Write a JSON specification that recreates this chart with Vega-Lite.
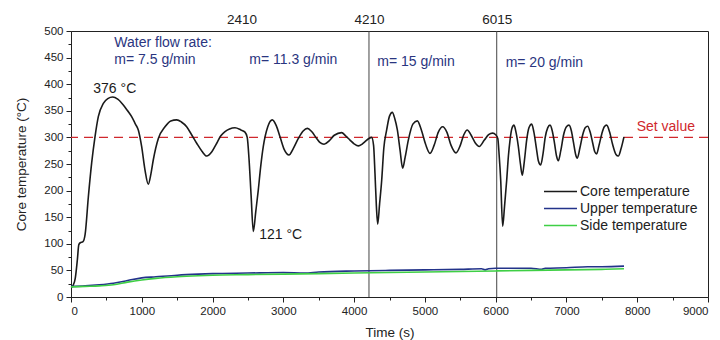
{
  "$schema": "https://vega.github.io/schema/vega-lite/v6.json",
  "width": 637,
  "height": 266,
  "autosize": {"type": "none"},
  "padding": {"left": 71, "top": 31, "right": 12, "bottom": 43},
  "config": {
    "font": "Liberation Sans",
    "view": {"stroke": "#222", "strokeWidth": 1},
    "axis": {"labelFont": "Liberation Sans", "titleFont": "Liberation Sans", "domainColor": "#222", "tickColor": "#222", "labelColor": "#222", "titleColor": "#222", "grid": false, "labelFontSize": 11.5, "titleFontSize": 13.5, "titleFontWeight": "normal", "format": "d"}
  },
  "datasets": {
    "temps": [
      {"t":0,"T":18,"s":"Core temperature"},{"t":30,"T":22,"s":"Core temperature"},{"t":60,"T":35,"s":"Core temperature"},{"t":90,"T":70,"s":"Core temperature"},{"t":110,"T":98,"s":"Core temperature"},{"t":130,"T":102,"s":"Core temperature"},{"t":170,"T":104,"s":"Core temperature"},{"t":200,"T":118,"s":"Core temperature"},{"t":245,"T":188,"s":"Core temperature"},{"t":292,"T":252,"s":"Core temperature"},{"t":339,"T":301,"s":"Core temperature"},{"t":386,"T":339,"s":"Core temperature"},{"t":457,"T":364,"s":"Core temperature"},{"t":520,"T":373,"s":"Core temperature"},{"t":589,"T":376,"s":"Core temperature"},{"t":660,"T":372,"s":"Core temperature"},{"t":739,"T":361,"s":"Core temperature"},{"t":800,"T":350,"s":"Core temperature"},{"t":857,"T":339,"s":"Core temperature"},{"t":910,"T":325,"s":"Core temperature"},{"t":951,"T":314,"s":"Core temperature"},{"t":998,"T":283,"s":"Core temperature"},{"t":1045,"T":239,"s":"Core temperature"},{"t":1092,"T":212,"s":"Core temperature"},{"t":1130,"T":232,"s":"Core temperature"},{"t":1163,"T":258,"s":"Core temperature"},{"t":1234,"T":298,"s":"Core temperature"},{"t":1328,"T":320,"s":"Core temperature"},{"t":1410,"T":331,"s":"Core temperature"},{"t":1493,"T":333,"s":"Core temperature"},{"t":1560,"T":329,"s":"Core temperature"},{"t":1634,"T":320,"s":"Core temperature"},{"t":1700,"T":306,"s":"Core temperature"},{"t":1776,"T":289,"s":"Core temperature"},{"t":1850,"T":274,"s":"Core temperature"},{"t":1917,"T":265,"s":"Core temperature"},{"t":1990,"T":273,"s":"Core temperature"},{"t":2059,"T":289,"s":"Core temperature"},{"t":2117,"T":303,"s":"Core temperature"},{"t":2176,"T":311,"s":"Core temperature"},{"t":2240,"T":316,"s":"Core temperature"},{"t":2317,"T":318,"s":"Core temperature"},{"t":2400,"T":314,"s":"Core temperature"},{"t":2458,"T":310,"s":"Core temperature"},{"t":2490,"T":300,"s":"Core temperature"},{"t":2515,"T":260,"s":"Core temperature"},{"t":2545,"T":190,"s":"Core temperature"},{"t":2576,"T":123,"s":"Core temperature"},{"t":2610,"T":160,"s":"Core temperature"},{"t":2646,"T":201,"s":"Core temperature"},{"t":2680,"T":245,"s":"Core temperature"},{"t":2717,"T":283,"s":"Core temperature"},{"t":2780,"T":320,"s":"Core temperature"},{"t":2844,"T":333,"s":"Core temperature"},{"t":2900,"T":322,"s":"Core temperature"},{"t":2953,"T":301,"s":"Core temperature"},{"t":3010,"T":278,"s":"Core temperature"},{"t":3080,"T":267,"s":"Core temperature"},{"t":3140,"T":279,"s":"Core temperature"},{"t":3212,"T":298,"s":"Core temperature"},{"t":3280,"T":312,"s":"Core temperature"},{"t":3340,"T":317,"s":"Core temperature"},{"t":3400,"T":311,"s":"Core temperature"},{"t":3471,"T":298,"s":"Core temperature"},{"t":3520,"T":290,"s":"Core temperature"},{"t":3575,"T":287,"s":"Core temperature"},{"t":3650,"T":294,"s":"Core temperature"},{"t":3720,"T":304,"s":"Core temperature"},{"t":3824,"T":309,"s":"Core temperature"},{"t":3880,"T":303,"s":"Core temperature"},{"t":3942,"T":295,"s":"Core temperature"},{"t":4000,"T":288,"s":"Core temperature"},{"t":4060,"T":284,"s":"Core temperature"},{"t":4110,"T":287,"s":"Core temperature"},{"t":4154,"T":292,"s":"Core temperature"},{"t":4210,"T":298,"s":"Core temperature"},{"t":4248,"T":300,"s":"Core temperature"},{"t":4275,"T":285,"s":"Core temperature"},{"t":4295,"T":232,"s":"Core temperature"},{"t":4315,"T":170,"s":"Core temperature"},{"t":4333,"T":137,"s":"Core temperature"},{"t":4360,"T":175,"s":"Core temperature"},{"t":4390,"T":220,"s":"Core temperature"},{"t":4420,"T":280,"s":"Core temperature"},{"t":4460,"T":314,"s":"Core temperature"},{"t":4500,"T":340,"s":"Core temperature"},{"t":4540,"T":347,"s":"Core temperature"},{"t":4575,"T":335,"s":"Core temperature"},{"t":4611,"T":314,"s":"Core temperature"},{"t":4650,"T":275,"s":"Core temperature"},{"t":4686,"T":242,"s":"Core temperature"},{"t":4720,"T":262,"s":"Core temperature"},{"t":4766,"T":295,"s":"Core temperature"},{"t":4830,"T":325,"s":"Core temperature"},{"t":4893,"T":331,"s":"Core temperature"},{"t":4950,"T":314,"s":"Core temperature"},{"t":5010,"T":287,"s":"Core temperature"},{"t":5072,"T":270,"s":"Core temperature"},{"t":5130,"T":285,"s":"Core temperature"},{"t":5190,"T":310,"s":"Core temperature"},{"t":5251,"T":320,"s":"Core temperature"},{"t":5310,"T":310,"s":"Core temperature"},{"t":5370,"T":285,"s":"Core temperature"},{"t":5439,"T":271,"s":"Core temperature"},{"t":5500,"T":285,"s":"Core temperature"},{"t":5550,"T":305,"s":"Core temperature"},{"t":5599,"T":314,"s":"Core temperature"},{"t":5650,"T":305,"s":"Core temperature"},{"t":5710,"T":290,"s":"Core temperature"},{"t":5769,"T":283,"s":"Core temperature"},{"t":5840,"T":295,"s":"Core temperature"},{"t":5900,"T":305,"s":"Core temperature"},{"t":5958,"T":308,"s":"Core temperature"},{"t":6000,"T":305,"s":"Core temperature"},{"t":6030,"T":298,"s":"Core temperature"},{"t":6050,"T":265,"s":"Core temperature"},{"t":6071,"T":220,"s":"Core temperature"},{"t":6099,"T":133,"s":"Core temperature"},{"t":6125,"T":170,"s":"Core temperature"},{"t":6156,"T":220,"s":"Core temperature"},{"t":6180,"T":265,"s":"Core temperature"},{"t":6203,"T":295,"s":"Core temperature"},{"t":6230,"T":317,"s":"Core temperature"},{"t":6259,"T":323,"s":"Core temperature"},{"t":6290,"T":308,"s":"Core temperature"},{"t":6320,"T":283,"s":"Core temperature"},{"t":6350,"T":250,"s":"Core temperature"},{"t":6376,"T":229,"s":"Core temperature"},{"t":6405,"T":255,"s":"Core temperature"},{"t":6438,"T":295,"s":"Core temperature"},{"t":6470,"T":318,"s":"Core temperature"},{"t":6509,"T":325,"s":"Core temperature"},{"t":6540,"T":310,"s":"Core temperature"},{"t":6575,"T":280,"s":"Core temperature"},{"t":6605,"T":255,"s":"Core temperature"},{"t":6636,"T":248,"s":"Core temperature"},{"t":6670,"T":270,"s":"Core temperature"},{"t":6700,"T":300,"s":"Core temperature"},{"t":6735,"T":318,"s":"Core temperature"},{"t":6768,"T":323,"s":"Core temperature"},{"t":6800,"T":312,"s":"Core temperature"},{"t":6830,"T":290,"s":"Core temperature"},{"t":6860,"T":265,"s":"Core temperature"},{"t":6885,"T":256,"s":"Core temperature"},{"t":6920,"T":275,"s":"Core temperature"},{"t":6960,"T":305,"s":"Core temperature"},{"t":7000,"T":320,"s":"Core temperature"},{"t":7036,"T":323,"s":"Core temperature"},{"t":7070,"T":312,"s":"Core temperature"},{"t":7100,"T":290,"s":"Core temperature"},{"t":7130,"T":268,"s":"Core temperature"},{"t":7153,"T":261,"s":"Core temperature"},{"t":7190,"T":280,"s":"Core temperature"},{"t":7230,"T":305,"s":"Core temperature"},{"t":7265,"T":318,"s":"Core temperature"},{"t":7300,"T":321,"s":"Core temperature"},{"t":7335,"T":310,"s":"Core temperature"},{"t":7370,"T":290,"s":"Core temperature"},{"t":7400,"T":273,"s":"Core temperature"},{"t":7427,"T":269,"s":"Core temperature"},{"t":7460,"T":285,"s":"Core temperature"},{"t":7500,"T":307,"s":"Core temperature"},{"t":7535,"T":320,"s":"Core temperature"},{"t":7568,"T":323,"s":"Core temperature"},{"t":7610,"T":310,"s":"Core temperature"},{"t":7650,"T":288,"s":"Core temperature"},{"t":7700,"T":268,"s":"Core temperature"},{"t":7733,"T":265,"s":"Core temperature"},{"t":7770,"T":278,"s":"Core temperature"},{"t":7813,"T":301,"s":"Core temperature"},
      {"t":0,"T":20,"s":"Upper temperature"},{"t":200,"T":21,"s":"Upper temperature"},{"t":400,"T":23,"s":"Upper temperature"},{"t":600,"T":26,"s":"Upper temperature"},{"t":800,"T":31,"s":"Upper temperature"},{"t":1000,"T":36,"s":"Upper temperature"},{"t":1200,"T":38,"s":"Upper temperature"},{"t":1500,"T":41,"s":"Upper temperature"},{"t":1800,"T":43,"s":"Upper temperature"},{"t":2000,"T":44,"s":"Upper temperature"},{"t":2500,"T":45,"s":"Upper temperature"},{"t":3000,"T":46,"s":"Upper temperature"},{"t":3300,"T":45,"s":"Upper temperature"},{"t":3500,"T":47,"s":"Upper temperature"},{"t":4000,"T":49,"s":"Upper temperature"},{"t":4500,"T":50,"s":"Upper temperature"},{"t":5000,"T":51,"s":"Upper temperature"},{"t":5500,"T":52,"s":"Upper temperature"},{"t":5800,"T":53,"s":"Upper temperature"},{"t":5850,"T":51,"s":"Upper temperature"},{"t":5900,"T":53,"s":"Upper temperature"},{"t":6000,"T":54,"s":"Upper temperature"},{"t":6500,"T":54,"s":"Upper temperature"},{"t":6650,"T":52,"s":"Upper temperature"},{"t":6700,"T":54,"s":"Upper temperature"},{"t":7000,"T":55,"s":"Upper temperature"},{"t":7300,"T":57,"s":"Upper temperature"},{"t":7500,"T":57,"s":"Upper temperature"},{"t":7813,"T":58,"s":"Upper temperature"},
      {"t":0,"T":19,"s":"Side temperature"},{"t":200,"T":20,"s":"Side temperature"},{"t":400,"T":21,"s":"Side temperature"},{"t":600,"T":23,"s":"Side temperature"},{"t":800,"T":28,"s":"Side temperature"},{"t":1000,"T":32,"s":"Side temperature"},{"t":1200,"T":35,"s":"Side temperature"},{"t":1500,"T":38,"s":"Side temperature"},{"t":1800,"T":40,"s":"Side temperature"},{"t":2000,"T":41,"s":"Side temperature"},{"t":2500,"T":42,"s":"Side temperature"},{"t":3000,"T":43,"s":"Side temperature"},{"t":3500,"T":44,"s":"Side temperature"},{"t":4000,"T":45,"s":"Side temperature"},{"t":4500,"T":46,"s":"Side temperature"},{"t":5000,"T":47,"s":"Side temperature"},{"t":5500,"T":48,"s":"Side temperature"},{"t":6000,"T":49,"s":"Side temperature"},{"t":6500,"T":50,"s":"Side temperature"},{"t":7000,"T":51,"s":"Side temperature"},{"t":7500,"T":52,"s":"Side temperature"},{"t":7813,"T":53,"s":"Side temperature"}
    ],
    "flow": [
      {"t":612,"T":478,"label":"Water flow rate:"},
      {"t":612,"T":445,"label":"m= 7.5 g/min"},
      {"t":2519,"T":445,"label":"m= 11.3 g/min"},
      {"t":4328,"T":441,"label":"m= 15 g/min"},
      {"t":6141,"T":440,"label":"m= 20 g/min"}
    ],
    "peaks": [
      {"t":315,"T":391,"label":"376 °C"},
      {"t":2660,"T":117,"label":"121 °C"}
    ],
    "setlabel": [{"t":7992,"T":320,"label":"Set value"}],
    "setvalue": [{"v":300}],
    "switches": [{"t":4210},{"t":6015}]
  },
  "layer": [
    {
      "data": {"name": "switches"},
      "mark": {"type": "rule", "color": "#444", "strokeWidth": 1},
      "encoding": {
        "x": {"field": "t", "type": "quantitative", "scale": {"domain": [0, 9000], "nice": false},
              "axis": {"orient": "top", "values": [2410, 4210, 6015], "title": null, "tickSize": 0, "domain": false, "labelPadding": 5, "labelFontSize": 13.5}}
      }
    },
    {
      "data": {"name": "setvalue"},
      "mark": {"type": "rule", "color": "#d0282d", "strokeWidth": 1.4, "strokeDash": [9, 6]},
      "encoding": {
        "y": {"field": "v", "type": "quantitative", "scale": {"domain": [0, 500], "nice": false}, "axis": null}
      }
    },
    {
      "data": {"name": "temps"},
      "mark": {"type": "line", "strokeWidth": 1.6, "interpolate": "monotone"},
      "encoding": {
        "x": {"field": "t", "type": "quantitative", "scale": {"domain": [0, 9000], "nice": false},
              "axis": {"orient": "bottom", "values": [0,1000,2000,3000,4000,5000,6000,7000,8000,9000], "title": "Time (s)", "tickSize": 5, "labelPadding": 3, "titlePadding": 9}},
        "y": {"field": "T", "type": "quantitative", "scale": {"domain": [0, 500], "nice": false},
              "axis": {"orient": "left", "values": [0,50,100,150,200,250,300,350,400,450,500], "title": "Core temperature (°C)", "tickSize": 5, "labelPadding": 3, "titlePadding": 15}},
        "color": {"field": "s", "type": "nominal",
                  "scale": {"domain": ["Core temperature", "Upper temperature", "Side temperature"], "range": ["#1a1a1a", "#23338a", "#3fcf45"]},
                  "legend": {"orient": "none", "legendX": 472, "legendY": 152, "title": null, "symbolType": "stroke", "symbolSize": 1089, "symbolStrokeWidth": 1.6, "labelFontSize": 14, "labelColor": "#222", "labelOffset": 2, "rowPadding": 0, "clipHeight": 17}},
        "detail": {"field": "s"}
      }
    },
    {
      "data": {"name": "flow"},
      "mark": {"type": "text", "align": "left", "baseline": "middle", "fontSize": 14, "color": "#2a3580"},
      "encoding": {
        "x": {"field": "t", "type": "quantitative", "axis": {"orient": "bottom", "values": [500,1500,2500,3500,4500,5500,6500,7500,8500], "labels": false, "title": null, "tickSize": 3, "domain": false}},
        "y": {"field": "T", "type": "quantitative", "axis": {"orient": "left", "values": [25,75,125,175,225,275,325,375,425,475], "labels": false, "title": null, "tickSize": 3, "domain": false}},
        "text": {"field": "label"}
      }
    },
    {
      "data": {"name": "peaks"},
      "mark": {"type": "text", "align": "left", "baseline": "middle", "fontSize": 14, "color": "#1a1a1a"},
      "encoding": {
        "x": {"field": "t", "type": "quantitative", "axis": null},
        "y": {"field": "T", "type": "quantitative", "axis": null},
        "text": {"field": "label"}
      }
    },
    {
      "data": {"name": "setlabel"},
      "mark": {"type": "text", "align": "left", "baseline": "middle", "fontSize": 14, "color": "#d0282d"},
      "encoding": {
        "x": {"field": "t", "type": "quantitative", "axis": null},
        "y": {"field": "T", "type": "quantitative", "axis": null},
        "text": {"field": "label"}
      }
    }
  ],
  "resolve": {"axis": {"x": "independent", "y": "independent"}}
}
